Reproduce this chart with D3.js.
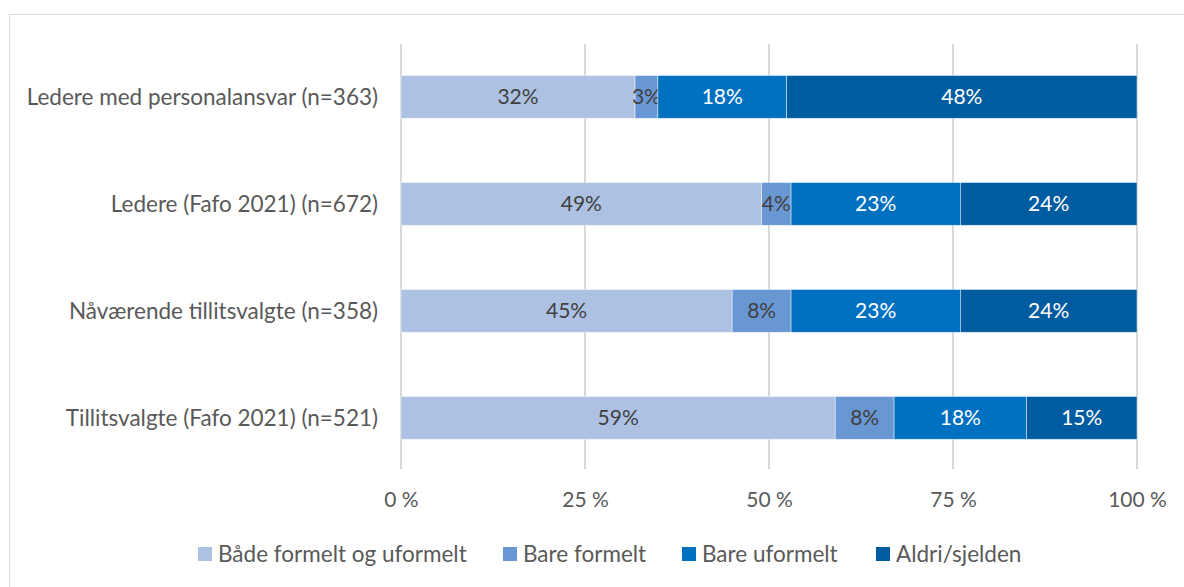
<!DOCTYPE html>
<html>
<head>
<meta charset="utf-8">
<script src="https://cdn.jsdelivr.net/npm/d3@7"></script>
<style>
  html, body { margin: 0; padding: 0; background: #fff; }
  svg { display: block; }
  text { font-family: Lato, "Open Sans", sans-serif; }
</style>
</head>
<body>
<svg id="chart" width="1184" height="587"></svg>
<script>
// Categories (top to bottom)
const categories = [
  "Ledere med personalansvar (n=363)",
  "Ledere (Fafo 2021) (n=672)",
  "Nåværende tillitsvalgte (n=358)",
  "Tillitsvalgte (Fafo 2021) (n=521)"
];

// Series values, percent of respondents
const seriesNames = ["Både formelt og uformelt", "Bare formelt", "Bare uformelt", "Aldri/sjelden"];
const bothFormalInformal = [31.8, 49, 45, 59];
const onlyFormal = [3.1, 4, 8, 8];
const onlyInformal = [17.5, 23, 23, 18];
const neverRarely = [47.6, 24, 24, 15];

// Axis ticks
const tickValues = [0, 25, 50, 75, 100];
const tickLabels = ["0 %", "25 %", "50 %", "75 %", "100 %"];

const colors = ["#adc2e3", "#6997d3", "#0070c0", "#005ca0"];
const labelColors = ["#404040", "#404040", "#ffffff", "#ffffff"];

const seriesValues = [bothFormalInformal, onlyFormal, onlyInformal, neverRarely];
const rows = categories.map((c, i) => {
  const r = { category: c };
  seriesNames.forEach((s, j) => r[s] = seriesValues[j][i]);
  return r;
});
const stacked = d3.stack().keys(seriesNames)(rows);

const svg = d3.select("#chart");

// Outer frame
svg.append("rect")
  .attr("x", 9.5).attr("y", 14.5)
  .attr("width", 1200).attr("height", 600)
  .attr("fill", "none").attr("stroke", "#d9d9d9").attr("stroke-width", 1);

const x = d3.scaleLinear().domain([0, 100]).range([401, 1137]);
const y = d3.scaleBand().domain(categories).range([43.4, 471.4])
  .paddingInner(0.6).paddingOuter(0.3);

// Vertical gridlines
svg.append("g")
  .selectAll("line")
  .data(tickValues)
  .join("line")
  .attr("x1", d => x(d)).attr("x2", d => x(d))
  .attr("y1", 44).attr("y2", 469)
  .attr("stroke", "#d9d9d9").attr("stroke-width", 2);

// Tick labels via a bottom axis
const axis = d3.axisBottom(x)
  .tickValues(tickValues)
  .tickFormat((d, i) => tickLabels[i])
  .tickSize(0)
  .tickPadding(0);
const ax = svg.append("g").attr("transform", "translate(0,492)").call(axis);
ax.select(".domain").remove();
ax.selectAll("text")
  .attr("fill", "#595959")
  .style("font-size", "21px")
  .style("font-family", "Lato, sans-serif");

// Category labels
svg.append("g")
  .selectAll("text")
  .data(categories)
  .join("text")
  .attr("x", 378)
  .attr("y", d => y(d) + y.bandwidth() / 2)
  .attr("dy", "0.35em")
  .attr("text-anchor", "end")
  .attr("fill", "#595959")
  .style("font-size", "22.5px")
  .text(d => d);

// Stacked bars
const layers = svg.append("g")
  .selectAll("g")
  .data(stacked)
  .join("g")
  .attr("fill", (d, i) => colors[i]);

layers.selectAll("rect")
  .data(d => d)
  .join("rect")
  .attr("x", d => x(d[0]))
  .attr("y", d => y(d.data.category))
  .attr("width", d => x(d[1]) - x(d[0]))
  .attr("height", y.bandwidth())
  .attr("stroke", "#ffffff")
  .attr("stroke-opacity", 0.6)
  .attr("stroke-width", 0.75);

// Value labels inside segments
layers.each(function (layer, i) {
  d3.select(this).selectAll("text")
    .data(layer)
    .join("text")
    .attr("x", d => (x(d[0]) + x(d[1])) / 2)
    .attr("y", d => y(d.data.category) + y.bandwidth() / 2)
    .attr("dy", "0.35em")
    .attr("text-anchor", "middle")
    .attr("fill", labelColors[i])
    .style("font-size", "21px")
    .text(d => Math.round(d[1] - d[0]) + "%");
});

// Legend
const legendX = [198, 503, 682, 876];
const legend = svg.append("g")
  .selectAll("g")
  .data(seriesNames)
  .join("g")
  .attr("transform", (d, i) => `translate(${legendX[i]},547)`);
legend.append("rect")
  .attr("width", 14).attr("height", 14)
  .attr("fill", (d, i) => colors[i]);
legend.append("text")
  .attr("x", 20).attr("y", 7).attr("dy", "0.35em")
  .attr("fill", "#595959")
  .style("font-size", "22.5px")
  .text(d => d);
</script>
</body>
</html>
